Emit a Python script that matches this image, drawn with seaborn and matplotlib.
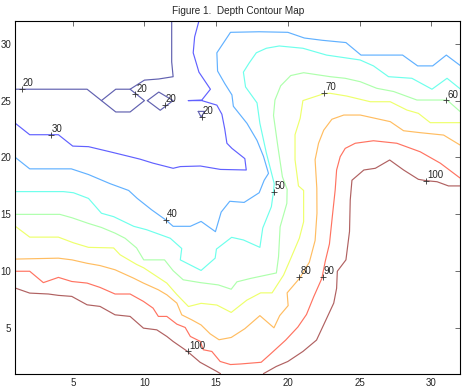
import matplotlib
matplotlib.use('Agg')
import matplotlib.pyplot as plt
import pandas as pd
import seaborn as sns

# contour levels (depth)
levels = [20, 30, 40, 50, 60, 70, 80, 90, 100]

# contour polylines, (x, y) pairs
c20_main = [(1, 26), (6, 26), (7, 25), (8, 26), (9, 26), (10, 26.8), (11, 26.9),
            (12, 27.1), (11.9, 28.4), (11.9, 32)]
c20_loop = [(7, 25), (8, 24), (9, 24), (10, 25), (9, 26)]
c20_diamond = [(10.2, 25), (11, 25.75), (12, 25), (11.1, 24.15), (10.2, 25)]
c20_small = [(13.75, 24.05), (14.2, 24.05), (13.95, 23.55), (13.75, 24.05)]

c30 = [(1, 23), (2, 22), (4, 22), (5, 21), (6.1, 20.95), (7.6, 20.5), (8.9, 20.1),
       (9.7, 19.85), (10.6, 19.5), (12, 19.05), (12.5, 19.2), (13.9, 19.25),
       (15.3, 18.95), (17.1, 18.9), (17.0, 19.9), (16.1, 20.8), (15.75, 21.25),
       (15.6, 22.5), (15.4, 23.8), (15.05, 24.6), (14, 25), (13.05, 25),
       (14, 25.05), (14.6, 26), (13.8, 27.5), (13.4, 29.2), (13.5, 30.6), (13.8, 32)]

c40 = [(1, 20), (2, 19), (4.9, 19), (6.1, 18.5), (7.6, 17.7), (8.9, 17.1),
       (9.5, 16.4), (10.5, 15.4), (11.5, 14.5), (12, 13.95), (13.2, 13.95),
       (13.95, 14.38), (14.95, 13.48), (15.35, 15.2), (15.95, 16.15), (16.95, 16.05),
       (18.0, 16.9), (18.35, 18), (18.65, 18.6), (18.3, 20.1), (17.85, 21.5),
       (17.15, 23), (16.2, 24.5), (16.1, 25.5), (15.6, 26.5), (15.1, 27.6),
       (15.05, 29.2), (16, 31), (18, 31.05), (20, 31), (21.15, 30.5), (22.4, 30.3),
       (24.05, 30.1), (25.1, 29), (28, 29), (29.05, 28.05), (30.1, 28.05),
       (31.05, 29), (32, 28.1)]

c50 = [(1, 17), (4.35, 17), (5.05, 16.9), (6.1, 16.4), (7, 15.1), (7.85, 14.8),
       (9.25, 13.95), (10.15, 13.65), (11.8, 12.9), (12.6, 12), (12.5, 11),
       (13.95, 10.07), (14.93, 11.15), (15.02, 11.95), (16.08, 12.98), (16.9, 12.75),
       (18.05, 12.1), (18.25, 13.8), (18.85, 15.67), (19, 17), (19.05, 17.7),
       (18.5, 20.4), (18.05, 23), (17.85, 24.8), (17.05, 26.2), (16.9, 27.5),
       (17.3, 28.3), (17.8, 29.2), (18.5, 29.6), (19.4, 29.8), (21.05, 29.6),
       (22.7, 29), (25.04, 28.57), (25.97, 28.05), (27.02, 27.1), (28.65, 26.96),
       (30.05, 26), (31.1, 26.96), (32, 26.05)]

c60 = [(1, 15), (4.1, 15), (4.95, 14.7), (6.1, 14.2), (7, 13.85), (7.95, 13.35),
       (8.65, 12.9), (9.45, 12.05), (9.95, 11), (11.4, 11), (12, 10.05),
       (12.7, 9.25), (13.9, 9.0), (15.15, 8.8), (16.05, 8.42), (16.45, 9.07),
       (17.4, 9.37), (19.2, 9.85), (19.35, 11.27), (19.46, 13.9), (19.93, 15.97),
       (19.95, 17.2), (19.62, 18.3), (19.3, 21), (19.0, 23.7), (19.1, 25.05),
       (19.5, 26.3), (20.2, 27.2), (21.1, 27.45), (22.96, 27.1), (24.0, 26.96),
       (25.05, 26.66), (26.2, 26.08), (27.37, 25.8), (29.0, 25.05), (31.1, 25.05),
       (32, 24.05)]

c70 = [(1, 13.95), (2, 13), (4, 13), (5.05, 12.5), (6.1, 12.1), (7.85, 12.05),
       (8.3, 11.45), (9.45, 10.6), (9.95, 10.3), (11.56, 8.96), (12.26, 7.95),
       (13.07, 6.9), (13.95, 7.18), (15.05, 7.03), (16.05, 6.38), (17.14, 7.46),
       (18.1, 8.1), (18.9, 8.1), (19.7, 9.66), (20.16, 11), (20.8, 12.9),
       (21.1, 14.35), (21.1, 17.1), (20.74, 17.5), (20.5, 19.8), (20.5, 22),
       (20.86, 23.45), (21.05, 25), (22.55, 25.62), (22.95, 25.64), (24.1, 25.4),
       (25.75, 24.9), (27.14, 24.9), (28.3, 24.17), (29.1, 23.88), (29.93, 23.06),
       (32, 23.06)]

c80 = [(1, 11.07), (4, 11.15), (4.95, 11), (6, 10.7), (6.9, 10.5), (7.95, 10.13),
       (9.23, 9.4), (9.93, 8.96), (10.97, 8.37), (11.56, 7.93), (12.26, 7.2),
       (12.6, 6.17), (13.3, 5.73), (13.95, 5.28), (14.58, 4.5), (15.2, 3.98),
       (16.05, 4.18), (17.0, 4.95), (18.05, 6.1), (19.03, 5.03), (19.43, 6.1),
       (20.02, 6.98), (19.95, 8.1), (20.83, 9.4), (21.5, 10.8), (21.9, 12.7),
       (22.03, 15.1), (22.02, 17.3), (21.9, 19.8), (22.14, 21.25), (22.5, 22.4),
       (23.07, 23.36), (23.9, 23.73), (25.05, 23.73), (27.14, 23.15), (28.07, 22.35),
       (29.23, 22.18), (30.86, 21.97), (32, 21.1)]

c90 = [(1, 10), (2, 10), (2.95, 9), (4, 9.46), (4.93, 9.1), (6, 8.96), (6.9, 8.58),
       (7.95, 8), (9, 8), (9.93, 7.35), (10.6, 6.76), (10.97, 6.03), (11.56, 6.03),
       (12.26, 5.35), (12.84, 5.06), (13.2, 4.27), (13.9, 3.83), (14.1, 3.1),
       (14.7, 2.95), (15.28, 2.07), (16, 1.8), (16.7, 1.85), (18.14, 2.0),
       (18.72, 2.65), (19.85, 3.95), (20.7, 5.1), (21.3, 6.2), (21.8, 7.75),
       (22.37, 9.37), (22.6, 10.83), (22.9, 12.4), (23.1, 14.8), (23.3, 17.14),
       (23.4, 18.9), (23.65, 20.07), (24.0, 20.8), (24.7, 21.25), (25.97, 21.47),
       (27.6, 21.25), (29.23, 20.5), (30.63, 19.5), (32, 18.2)]

c100_left = [(1, 8.52), (2, 8.08), (3.3, 8), (4, 7.88), (4.93, 7.79), (6, 7.05),
             (6.9, 6.91), (7.95, 6.17), (9, 6.03), (9.93, 5.0), (10.86, 4.85),
             (11.56, 4.27), (12, 3.83), (12.95, 3.0), (13.88, 2.0), (15.05, 1.19),
             (15.3, 1.0)]
c100_right = [(18.3, 1.0), (19.19, 1.63), (20, 2.07), (21.05, 2.95), (22, 3.95),
              (22.5, 5.3), (23.2, 7.2), (23.4, 8.5), (23.45, 10), (24.05, 11),
              (24.3, 13.5), (24.35, 16.26), (24.47, 18), (25.3, 18.9), (26.1, 19.05),
              (27.1, 19.78), (28.07, 18.9), (29.1, 18.08), (29.65, 17.96),
              (30.4, 17.87), (31.2, 17.5), (32, 17.5)]

contours = [(20, c20_main), (20, c20_loop), (20, c20_diamond), (20, c20_small),
            (30, c30), (40, c40), (50, c50), (60, c60), (70, c70), (80, c80),
            (90, c90), (100, c100_left), (100, c100_right)]

# clabel positions
label_val = [20, 20, 20, 20, 30, 40, 50, 60, 70, 80, 90, 100, 100]
label_x = [1.45, 9.35, 11.4, 14.0, 3.46, 11.5, 19.0, 31.05, 22.55, 20.8, 22.44, 13.02, 29.65]
label_y = [26.0, 25.55, 24.6, 23.6, 22.0, 14.5, 17.0, 25.02, 25.65, 9.52, 9.5, 2.95, 17.96]

rows = []
for k, (lev, pts) in enumerate(contours):
    for x, y in pts:
        rows.append({'x': x, 'y': y, 'level': lev, 'piece': k})
df = pd.DataFrame(rows)

# jet colours, washed out a bit like the thin lines in the original
cmap = plt.get_cmap('jet')
fade = 0.38
palette = {}
for lev in levels:
    r, g, b, _ = cmap((lev - 20) / 80)
    palette[lev] = (r + (1 - r) * fade, g + (1 - g) * fade, b + (1 - b) * fade)

sns.set_style('white')
plt.rcParams['font.family'] = ['Liberation Sans', 'DejaVu Sans']

fig = plt.figure(figsize=(4.66, 3.88), dpi=100)
ax = fig.add_axes([0.033, 0.037, 0.954, 0.909])

sns.lineplot(data=df, x='x', y='y', hue='level', units='piece', estimator=None,
             sort=False, palette=palette, legend=False, linewidth=0.85, ax=ax)

ax.plot(label_x, label_y, '+', color='#333333', ms=5, mew=0.6)
for x, y, v in zip(label_x, label_y, label_val):
    ax.annotate(str(v), (x, y), xytext=(0.8, 0.6), textcoords='offset points',
                ha='left', va='bottom', fontsize=7)

ax.set_xlim(1, 32)
ax.set_ylim(1, 32)
ax.set_xticks(range(5, 31, 5))
ax.set_yticks(range(5, 31, 5))
ax.set_xlabel('')
ax.set_ylabel('')
ax.tick_params(direction='in', top=True, right=True, length=3.5, width=0.6,
               labelsize=7, pad=3, color='#555555')
for s in ax.spines.values():
    s.set_color('black')
    s.set_linewidth(0.8)
ax.set_title('Figure 1.  Depth Contour Map', fontsize=7.2, pad=5)

fig.savefig('out.png', dpi=100, facecolor='white')
